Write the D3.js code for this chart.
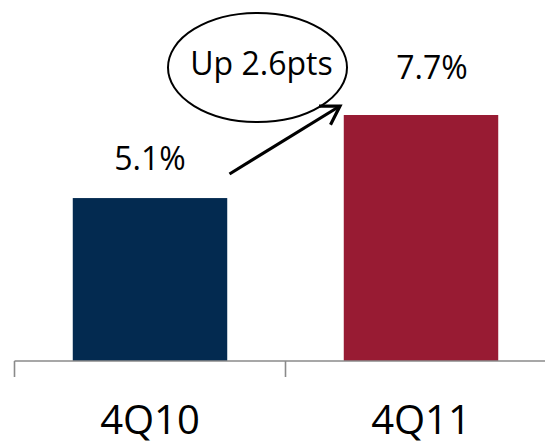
<!DOCTYPE html>
<html>
<head>
<meta charset="utf-8">
<script src="https://cdn.jsdelivr.net/npm/d3@7"></script>
<style>
  html, body { margin: 0; padding: 0; background: #fff; }
  svg { display: block; }
  text { font-family: "Open Sans", "DejaVu Sans", sans-serif; fill: #000; }
</style>
</head>
<body>
<svg id="chart" width="545" height="445"></svg>
<script>
// Quarterly rate, fourth quarter of each year
const categories = ["4Q10", "4Q11"];
const values = [5.1, 7.7];
const valueLabels = ["5.1%", "7.7%"];
const barColors = ["#032a50", "#981b33"];
const callout = "Up 2.6pts";

const width = 545, height = 445;
const baseline = 361;

const svg = d3.select("#chart");

const x = d3.scaleBand()
  .domain(categories)
  .range([14.5, 556.5])
  .paddingInner(0.43)
  .paddingOuter(0.215);

const y = d3.scaleLinear()
  .domain([0, 7.7])
  .range([baseline, 115]);

// Bars
svg.selectAll("rect.bar")
  .data(values)
  .join("rect")
  .attr("class", "bar")
  .attr("x", (d, i) => x(categories[i]))
  .attr("width", x.bandwidth())
  .attr("y", d => y(d))
  .attr("height", d => y(0) - y(d))
  .attr("fill", (d, i) => barColors[i]);

// Category axis: baseline line, ticks at the band edges
const axis = svg.append("g").attr("transform", `translate(0,${baseline})`);
axis.append("line")
  .attr("x1", 14.5).attr("x2", width)
  .attr("stroke", "#8a8a8a").attr("stroke-width", 1.6);
const edges = [x.range()[0], x.range()[0] + (x.range()[1] - x.range()[0]) / categories.length];
axis.selectAll("line.tick")
  .data(edges)
  .join("line")
  .attr("class", "tick")
  .attr("x1", d => d).attr("x2", d => d)
  .attr("y1", 0).attr("y2", 16)
  .attr("stroke", "#8a8a8a").attr("stroke-width", 1.6);
axis.selectAll("text")
  .data(categories)
  .join("text")
  .attr("x", d => x(d) + x.bandwidth() / 2)
  .attr("y", 73)
  .attr("text-anchor", "middle")
  .style("font-size", "40px")
  .text(d => d);

// Value labels above bars
const labelShift = [[0, -28], [11, -36]];
svg.selectAll("text.value")
  .data(values)
  .join("text")
  .attr("class", "value")
  .attr("x", (d, i) => x(categories[i]) + x.bandwidth() / 2 + labelShift[i][0])
  .attr("y", (d, i) => y(d) + labelShift[i][1])
  .attr("text-anchor", "middle")
  .style("font-size", "32px")
  .text((d, i) => valueLabels[i]);

// Callout bubble
svg.append("ellipse")
  .attr("cx", 257.5).attr("cy", 67.5)
  .attr("rx", 89.5).attr("ry", 54.5)
  .attr("fill", "none").attr("stroke", "#000").attr("stroke-width", 2);
svg.append("text")
  .attr("x", 261.5).attr("y", 75)
  .attr("text-anchor", "middle")
  .style("font-size", "32px")
  .text(callout);

// Arrow from the first label towards the second bar
const p0 = [229.5, 174], p1 = [340, 106];
svg.append("line")
  .attr("x1", p0[0]).attr("y1", p0[1])
  .attr("x2", p1[0]).attr("y2", p1[1])
  .attr("stroke", "#000").attr("stroke-width", 3.2);
const ang = Math.atan2(p1[1] - p0[1], p1[0] - p0[0]);
const head = 21, spread = 0.55;
const wing = a => [p1[0] - head * Math.cos(a), p1[1] - head * Math.sin(a)];
const w1 = wing(ang - spread), w2 = wing(ang + spread);
svg.append("path")
  .attr("d", `M${w1[0]},${w1[1]}L${p1[0]},${p1[1]}L${w2[0]},${w2[1]}`)
  .attr("fill", "none").attr("stroke", "#000").attr("stroke-width", 3.2)
  .attr("stroke-linejoin", "miter");
</script>
</body>
</html>
